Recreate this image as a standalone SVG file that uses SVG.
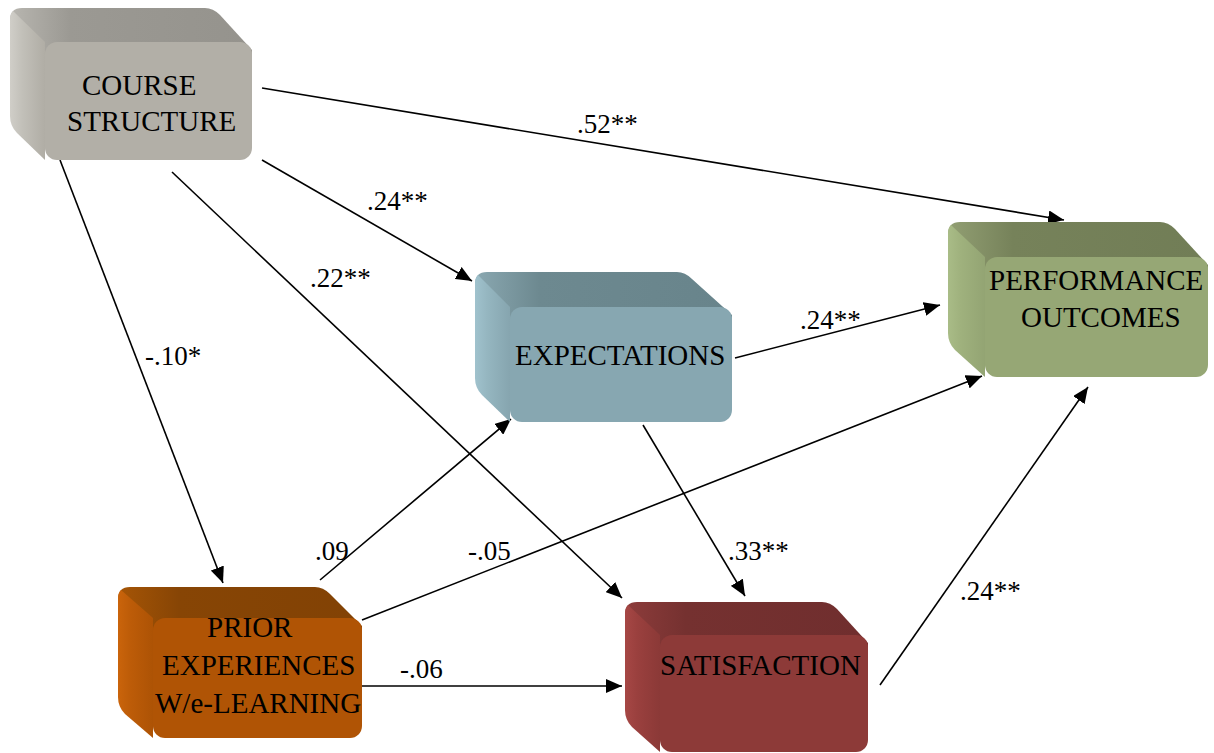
<svg xmlns="http://www.w3.org/2000/svg" width="1214" height="753" viewBox="0 0 1214 753">
<defs>
<style>
.node text{font-size:29px;fill:#000}
.lbl{font-size:27px;fill:#000}
.conn line{stroke:#000;stroke-width:1.6;fill:none;marker-end:url(#ah)}
</style>
<marker id="ah" markerUnits="userSpaceOnUse" markerWidth="18" markerHeight="14" refX="16" refY="7" orient="auto">
<path d="M0,0 L16,7 L0,14 Z" fill="#000"/>
</marker>
<linearGradient id="gC" x1="0" x2="1" y1="0" y2="0"><stop offset="0" stop-color="#d0cec8"/><stop offset="0.35" stop-color="#c2c0b9"/><stop offset="1" stop-color="#b0ada5"/></linearGradient>
<linearGradient id="gE" x1="0" x2="1" y1="0" y2="0"><stop offset="0" stop-color="#a0c2cd"/><stop offset="0.35" stop-color="#95b6c0"/><stop offset="1" stop-color="#86a5af"/></linearGradient>
<linearGradient id="gP" x1="0" x2="1" y1="0" y2="0"><stop offset="0" stop-color="#a9bc87"/><stop offset="0.35" stop-color="#9fb17d"/><stop offset="1" stop-color="#93a473"/></linearGradient>
<linearGradient id="gR" x1="0" x2="1" y1="0" y2="0"><stop offset="0" stop-color="#ca640b"/><stop offset="0.35" stop-color="#bd5c08"/><stop offset="1" stop-color="#ad5305"/></linearGradient>
<linearGradient id="gS" x1="0" x2="1" y1="0" y2="0"><stop offset="0" stop-color="#a64745"/><stop offset="0.35" stop-color="#9a403e"/><stop offset="1" stop-color="#8b3937"/></linearGradient>
<linearGradient id="tC" x1="0" x2="1" y1="0" y2="0"><stop offset="0" stop-color="#b8b6b0"/><stop offset="0.25" stop-color="#9b9993"/><stop offset="1" stop-color="#95938d"/></linearGradient>
<linearGradient id="tE" x1="0" x2="1" y1="0" y2="0"><stop offset="0" stop-color="#8aa8b1"/><stop offset="0.25" stop-color="#6d8990"/><stop offset="1" stop-color="#68848b"/></linearGradient>
<linearGradient id="tP" x1="0" x2="1" y1="0" y2="0"><stop offset="0" stop-color="#929f73"/><stop offset="0.25" stop-color="#76825a"/><stop offset="1" stop-color="#717d56"/></linearGradient>
<linearGradient id="tR" x1="0" x2="1" y1="0" y2="0"><stop offset="0" stop-color="#a65506"/><stop offset="0.25" stop-color="#874505"/><stop offset="1" stop-color="#824205"/></linearGradient>
<linearGradient id="tS" x1="0" x2="1" y1="0" y2="0"><stop offset="0" stop-color="#8d3c3b"/><stop offset="0.25" stop-color="#753130"/><stop offset="1" stop-color="#702e2e"/></linearGradient>
</defs>
<rect width="1214" height="753" fill="#fff"/>

<g id="conns" class="conn">
<line x1="262" y1="88" x2="1064" y2="220"/>
<line x1="262" y1="160" x2="472" y2="281"/>
<line x1="172" y1="172" x2="622" y2="598"/>
<line x1="60" y1="160" x2="223" y2="583"/>
<line x1="735" y1="358" x2="940" y2="305"/>
<line x1="643" y1="425" x2="745" y2="596"/>
<line x1="320" y1="580" x2="511" y2="419"/>
<line x1="362" y1="620" x2="982" y2="376"/>
<line x1="362" y1="686" x2="622" y2="686"/>
<line x1="880" y1="685" x2="1088" y2="387"/>
</g>

<g id="labels" font-family="'Liberation Serif', 'Times New Roman', serif">
<text class="lbl" x="577" y="133">.52**</text>
<text class="lbl" x="367" y="210">.24**</text>
<text class="lbl" x="310" y="287">.22**</text>
<text class="lbl" x="145" y="365">-.10*</text>
<text class="lbl" x="800" y="329">.24**</text>
<text class="lbl" x="728" y="560">.33**</text>
<text class="lbl" x="315" y="560">.09</text>
<text class="lbl" x="468" y="560">-.05</text>
<text class="lbl" x="400" y="678">-.06</text>
<text class="lbl" x="960" y="600">.24**</text>
</g>

<g id="course" class="node" font-family="'Liberation Serif', 'Times New Roman', serif">
<path d="M10,20 Q10,8 22,8 L205,8 Q213,8 220,15 L252,50 L252,60 L45,60 Z" fill="url(#tC)"/>
<path d="M13,11 L45,42 L45,160 L17,133 Q10,126 10,116 L10,20 Q10,14 13,11 Z" fill="url(#gC)"/>
<rect x="45" y="42" width="207" height="118" rx="12" fill="#b2afa7"/>
<text x="82" y="95">COURSE</text>
<text x="67" y="131">STRUCTURE</text>
</g>

<g id="expectations" class="node" font-family="'Liberation Serif', 'Times New Roman', serif">
<path d="M475,284 Q475,272 487,272 L677,272 Q685,272 692,279 L732,315 L732,325 L510,325 Z" fill="url(#tE)"/>
<path d="M478,275 L510,307 L510,422 L482,395 Q475,388 475,378 L475,284 Q475,278 478,275 Z" fill="url(#gE)"/>
<rect x="510" y="307" width="222" height="115" rx="12" fill="#87a7b1"/>
<text x="515" y="365">EXPECTATIONS</text>
</g>

<g id="performance" class="node" font-family="'Liberation Serif', 'Times New Roman', serif">
<path d="M948,234 Q948,222 960,222 L1160,222 Q1168,222 1175,229 L1208,265 L1208,275 L985,275 Z" fill="url(#tP)"/>
<path d="M951,225 L985,257 L985,377 L955,350 Q948,343 948,333 L948,234 Q948,228 951,225 Z" fill="url(#gP)"/>
<rect x="985" y="257" width="223" height="120" rx="12" fill="#96a775"/>
<text x="989" y="290">PERFORMANCE</text>
<text x="1021" y="327">OUTCOMES</text>
</g>

<g id="prior" class="node" font-family="'Liberation Serif', 'Times New Roman', serif">
<path d="M118,599 Q118,587 130,587 L315,587 Q323,587 330,594 L362,626 L362,636 L153,636 Z" fill="url(#tR)"/>
<path d="M121,590 L153,618 L153,738 L125,714 Q118,707 118,697 L118,599 Q118,593 121,590 Z" fill="url(#gR)"/>
<rect x="153" y="618" width="209" height="120" rx="12" fill="#b05405"/>
<text x="207" y="637">PRIOR</text>
<text x="162" y="675">EXPERIENCES</text>
<text x="155" y="713">W/e-LEARNING</text>
</g>

<g id="satisfaction" class="node" font-family="'Liberation Serif', 'Times New Roman', serif">
<path d="M625,614 Q625,602 637,602 L822,602 Q830,602 837,609 L868,643 L868,653 L660,653 Z" fill="url(#tS)"/>
<path d="M628,605 L660,635 L660,752 L632,727 Q625,720 625,710 L625,614 Q625,608 628,605 Z" fill="url(#gS)"/>
<rect x="660" y="635" width="208" height="117" rx="12" fill="#8d3a38"/>
<text x="660" y="675">SATISFACTION</text>
</g>
</svg>
